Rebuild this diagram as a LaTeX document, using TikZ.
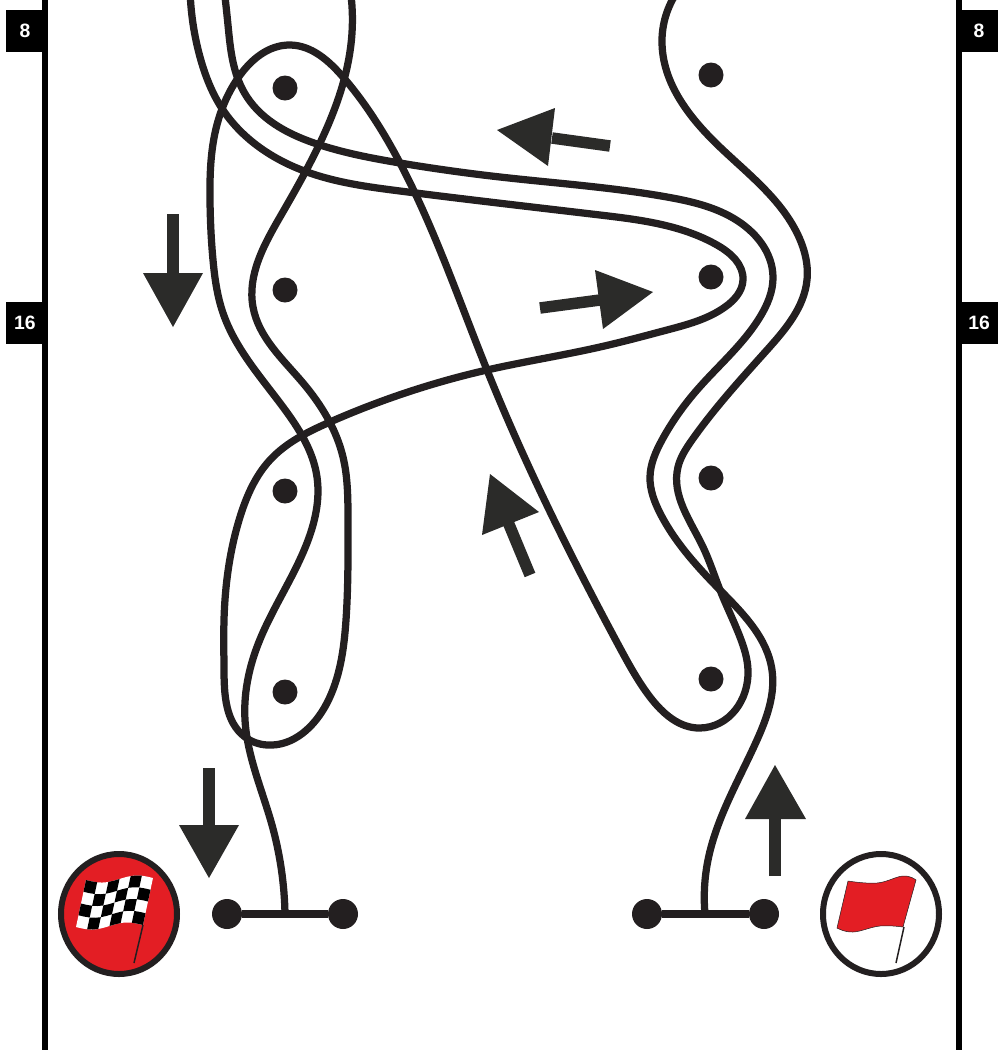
\documentclass[tikz,border=0pt]{standalone}
\usepackage{fontspec}
\setmainfont{Liberation Sans}
\usetikzlibrary{hobby,shapes.geometric}
\definecolor{ink}{HTML}{231F20}
\definecolor{arrowgrey}{HTML}{2B2B29}
\definecolor{flagred}{HTML}{E31E24}
\tikzset{
  px/.style={x=0.2mm,y=-0.2mm},
  course/.style={draw=ink,line width=1.45mm,line cap=round,line join=round,use Hobby shortcut},
  cone/.style={circle,fill=ink,inner sep=0pt,minimum size=5mm},
  gatepost/.style={circle,fill=ink,inner sep=0pt,minimum size=6mm},
  gatebar/.style={draw=ink,line width=1.5mm},
  blockarrow/.style={fill=arrowgrey,draw=none},
  shaft/.style={draw=arrowgrey,line width=2.3mm},
  marker/.style={fill=black,text=white,inner sep=0pt,minimum width=7.6mm,minimum height=8.4mm,font=\fontsize{11}{13}\selectfont\bfseries},
  rail/.style={fill=black,draw=none},
  flagdisc/.style={ellipse,draw=ink,line width=1.2mm,inner sep=0pt,minimum width=23.2mm,minimum height=24mm},
  pole/.style={draw=ink,line width=0.3mm},
  declare function={
    fx(\u,\v)=(1-\v)*((1-\u)*86+\u*153)+\v*((1-\u)*76+\u*143);
    fy(\u,\v)=(1-\v)*((1-\u)*880+\u*878)+\v*((1-\u)*927+\u*925)+3*sin(\u*360);
  }
}
\begin{document}
\begin{tikzpicture}[px]
\useasboundingbox (0,0) rectangle (998,1050);
\clip (0,0) rectangle (998,1050);
% side rails
\fill[rail] (42,0) rectangle (48,1050);
\fill[rail] (956,0) rectangle (962,1050);
\node[marker] (m8l) at (25,31) {8};
\node[marker] (m16l) at (25,323) {16};
\node[marker] (m8r) at (979,31) {8};
\node[marker] (m16r) at (979,323) {16};
% gates
\node[gatepost] (gl1) at (227,914) {};
\node[gatepost] (gl2) at (343,914) {};
\node[gatepost] (gr1) at (647,914) {};
\node[gatepost] (gr2) at (764,914) {};
\draw[gatebar] (gl1) -- (gl2);
\draw[gatebar] (gr1) -- (gr2);
\coordinate (tl) at (285,914);
\coordinate (tr) at (705,914);
\coordinate (ta) at (224,-12);
\coordinate (tb) at (190,-12);
\coordinate (tc) at (350,-12);
\coordinate (td) at (680,-12);
% course lines
\draw[course] (tr) .. (708,860) .. (757,740) .. (772,670) .. (720,590) .. (660,513) .. (650,477) .. (662,440) .. (697,390) .. (760,317) .. (773,277) .. (733,218) .. (667,197) .. (500,177) .. (400,163) .. (320,145) .. (247,97) .. (235,70) .. (228,25) .. (ta);
\draw[course] (tb) .. (200,57) .. (223,110) .. (307,172) .. (400,191) .. (600,215) .. (717,245) .. (743,280) .. (725,307) .. (667,330) .. (600,347) .. (487,370) .. (330,422) .. (270,460) .. (240,517) .. (224,620) .. (224,670) .. (245,737) .. (267,745) .. (327,703) .. (346,620) .. (348,520) .. (343,457) .. (303,383) .. (253,307) .. (280,217) .. (320,143) .. (352,33) .. (tc);
\draw[course] (td) .. (662,40) .. (723,150) .. (797,233) .. (807,280) .. (767,350) .. (692,440) .. (678,467) .. (703,547) .. (720,590) .. (740,637) .. (748,670) .. (700,728) .. (650,697) .. (620,648) .. (487,370) .. (400,163) .. (343,77) .. (290,45) .. (238,78) .. (215,133) .. (210,200) .. (213,260) .. (223,313) .. (283,407) .. (317,477) .. (307,543) .. (257,647) .. (245,720) .. (272,825) .. (tl);
% cones
\foreach \n/\x/\y in {a/285/88,b/285/290,c/285/491,d/285/692,e/711/75,f/711/277,g/711/478,h/711/679}
  \node[cone] (cone\n) at (\x,\y) {};
% arrows
\draw[shaft] (610,146) -- (552,138);
\fill[blockarrow] (497,130) -- (555,108) -- (548,166) -- cycle;
\draw[shaft] (540,308) -- (600,300);
\fill[blockarrow] (653,292) -- (595,270) -- (603,329) -- cycle;
\draw[shaft] (530,575) -- (508,522);
\fill[blockarrow] (490,474) -- (482,535) -- (539,512) -- cycle;
\draw[shaft] (173,214) -- (173,275);
\fill[blockarrow] (143,273) -- (203,273) -- (173,327) -- cycle;
\draw[shaft] (209,768) -- (209,827);
\fill[blockarrow] (179,825) -- (239,825) -- (209,878) -- cycle;
\draw[shaft] (775,876) -- (775,817);
\fill[blockarrow] (745,819) -- (806,819) -- (775,765) -- cycle;
% finish flag
\node[flagdisc,fill=flagred] (finish) at (119,914) {};
\fill[white] plot[domain=0:1,samples=25,smooth] ({fx(\x,0)},{fy(\x,0)}) -- plot[domain=1:0,samples=25,smooth] ({fx(\x,1)},{fy(\x,1)}) -- cycle;
\foreach \i in {0,...,5}{\foreach \j in {0,...,3}{
  \pgfmathtruncatemacro{\odd}{mod(\i+\j,2)}
  \ifnum\odd=0
    \pgfmathsetmacro{\ua}{\i/6}\pgfmathsetmacro{\ub}{(\i+1)/6}
    \pgfmathsetmacro{\uc}{(\i+.5)/6}
    \pgfmathsetmacro{\va}{\j/4}\pgfmathsetmacro{\vb}{(\j+1)/4}
    \fill[black] ({fx(\ua,\va)},{fy(\ua,\va)}) -- ({fx(\uc,\va)},{fy(\uc,\va)}) -- ({fx(\ub,\va)},{fy(\ub,\va)}) -- ({fx(\ub,\vb)},{fy(\ub,\vb)}) -- ({fx(\uc,\vb)},{fy(\uc,\vb)}) -- ({fx(\ua,\vb)},{fy(\ua,\vb)}) -- cycle;
  \fi
}}
\draw[pole] (143,925) -- (134,963);
% start flag
\node[flagdisc,fill=white] (start) at (881,914) {};
\fill[flagred,draw=ink,line width=0.1mm] plot[smooth,tension=.7] coordinates {(848,881) (877,883) (903,876) (916,880)} -- plot[smooth,tension=.7] coordinates {(903,927) (880,926) (853,932) (837,928)} -- cycle;
\draw[pole] (904,927) -- (896,963);
\end{tikzpicture}
\end{document}
